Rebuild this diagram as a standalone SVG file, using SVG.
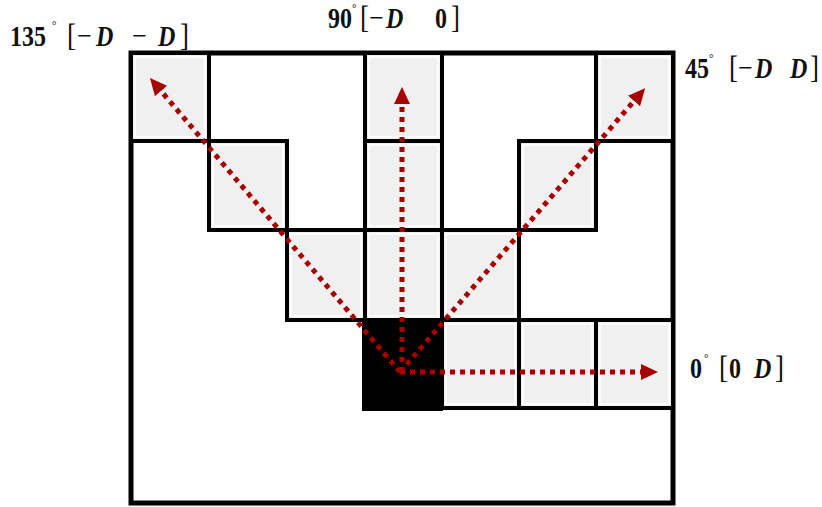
<svg xmlns="http://www.w3.org/2000/svg" width="822" height="507" viewBox="0 0 822 507">
<defs>
<style>
.frame{fill:#fff;stroke:#000;stroke-width:5}
.cell{fill:#f0f0f0;stroke:#000;stroke-width:4}
.inner{fill:none;stroke:#fff;stroke-width:1.5}
.origin{fill:#000;stroke:#000;stroke-width:2}
.arr{fill:none;stroke:#a80000;stroke-width:5;stroke-dasharray:5 5}
.lbl{font-family:"Liberation Serif",serif;font-size:24px;font-weight:bold;fill:#111}
.brk{font-weight:normal;font-size:27px}
.mn{font-weight:normal;font-size:26px}
.it{font-style:italic}
.deg{font-size:11px;font-weight:normal}
</style>
<marker id="ah" markerUnits="userSpaceOnUse" markerWidth="18" markerHeight="16" refX="0" refY="8" orient="auto">
<path d="M0,0 L17,8 L0,16 z" fill="#a80000"/>
</marker>
</defs>
<rect width="822" height="507" fill="#fff"/>
<g id="frame"><rect class="frame" x="131" y="53" width="542" height="450"/></g>
<g id="cell-135-1"><rect class="cell" x="131" y="53" width="78" height="88"/><rect class="inner" x="135" y="57" width="70" height="80"/></g>
<g id="cell-90-1"><rect class="cell" x="365" y="53" width="77" height="88"/><rect class="inner" x="369" y="57" width="69" height="80"/></g>
<g id="cell-45-1"><rect class="cell" x="596" y="53" width="77" height="88"/><rect class="inner" x="600" y="57" width="69" height="80"/></g>
<g id="cell-135-2"><rect class="cell" x="209" y="141" width="78" height="89"/><rect class="inner" x="213" y="145" width="70" height="81"/></g>
<g id="cell-90-2"><rect class="cell" x="365" y="141" width="77" height="89"/><rect class="inner" x="369" y="145" width="69" height="81"/></g>
<g id="cell-45-2"><rect class="cell" x="519" y="141" width="77" height="89"/><rect class="inner" x="523" y="145" width="69" height="81"/></g>
<g id="cell-135-3"><rect class="cell" x="287" y="230" width="78" height="90"/><rect class="inner" x="291" y="234" width="70" height="82"/></g>
<g id="cell-90-3"><rect class="cell" x="365" y="230" width="77" height="90"/><rect class="inner" x="369" y="234" width="69" height="82"/></g>
<g id="cell-45-3"><rect class="cell" x="442" y="230" width="77" height="90"/><rect class="inner" x="446" y="234" width="69" height="82"/></g>
<g id="cell-0-1"><rect class="cell" x="442" y="320" width="77" height="88"/><rect class="inner" x="446" y="324" width="69" height="80"/></g>
<g id="cell-0-2"><rect class="cell" x="519" y="320" width="77" height="88"/><rect class="inner" x="523" y="324" width="69" height="80"/></g>
<g id="cell-0-3"><rect class="cell" x="596" y="320" width="77" height="88"/><rect class="inner" x="600" y="324" width="69" height="80"/></g>
<g id="origin"><rect class="origin" x="363" y="320" width="79" height="90"/></g>
<g id="connectors">
<line class="arr" x1="400" y1="372" x2="641" y2="372" marker-end="url(#ah)"/>
<line class="arr" x1="402" y1="372" x2="402" y2="104" marker-end="url(#ah)"/>
<line class="arr" x1="400" y1="372" x2="161" y2="91" marker-end="url(#ah)"/>
<line class="arr" x1="400" y1="372" x2="634" y2="101" marker-end="url(#ah)"/>
</g>
<g id="label-135" class="lbl" transform="translate(0,46) scale(1,1.2) translate(0,-46)">
<text x="10" y="46">135</text><text class="deg" x="52" y="32">°</text>
<text class="brk" x="67" y="46">[</text><text class="mn" x="77" y="46">−</text><text class="it" x="96" y="46">D</text>
<text class="mn" x="132" y="46">−</text><text class="it" x="158" y="46">D</text><text class="brk" x="180" y="46">]</text>
</g>
<g id="label-90" class="lbl" transform="translate(0,28) scale(1,1.2) translate(0,-28)">
<text x="328" y="28">90</text><text class="deg" x="352" y="15">°</text>
<text class="brk" x="360" y="28">[</text><text class="mn" x="369" y="28">−</text><text class="it" x="386" y="28">D</text>
<text x="435" y="28">0</text><text class="brk" x="451" y="28">]</text>
</g>
<g id="label-45" class="lbl" transform="translate(0,78) scale(1,1.2) translate(0,-78)">
<text x="685" y="78">45</text><text class="deg" x="709" y="65">°</text>
<text class="brk" x="729" y="78">[</text><text class="mn" x="738" y="78">−</text><text class="it" x="755" y="78">D</text>
<text class="it" x="790" y="78">D</text><text class="brk" x="810" y="78">]</text>
</g>
<g id="label-0" class="lbl" transform="translate(0,378) scale(1,1.2) translate(0,-378)">
<text x="690" y="378">0</text><text class="deg" x="704" y="365">°</text>
<text class="brk" x="719" y="378">[</text><text x="729" y="378">0</text>
<text class="it" x="754" y="378">D</text><text class="brk" x="775" y="378">]</text>
</g>
</svg>
